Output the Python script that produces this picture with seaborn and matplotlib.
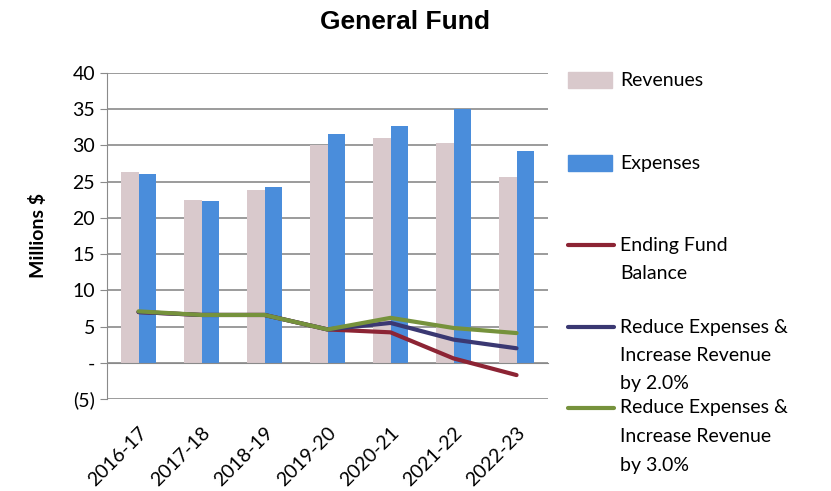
import numpy as np
import pandas as pd
import matplotlib.pyplot as plt
from matplotlib.lines import Line2D
from matplotlib.patches import Rectangle
import seaborn as sns

# --- data ---
years = ['2016-17', '2017-18', '2018-19', '2019-20', '2020-21', '2021-22', '2022-23']
revenues = [26.3, 22.5, 23.9, 30.1, 31.0, 30.3, 25.7]
expenses = [26.1, 22.4, 24.2, 31.6, 32.7, 35.1, 29.2]
ending_balance = [7.0, 6.6, 6.6, 4.6, 4.2, 0.6, -1.7]
reduce_2pct = [7.0, 6.6, 6.6, 4.6, 5.5, 3.2, 2.0]
reduce_3pct = [7.1, 6.6, 6.6, 4.6, 6.2, 4.8, 4.1]
y_ticks = [-5, 0, 5, 10, 15, 20, 25, 30, 35, 40]
y_tick_labels = ['(5)', '-', '5', '10', '15', '20', '25', '30', '35', '40']

rev_color = '#D9C9CC'
exp_color = '#4A8DDB'
red_color = '#8C2434'
purple_color = '#3A3872'
green_color = '#76923C'
grid_color = '#8A8A8A'

sns.set_style('white')
plt.rcParams['font.family'] = ['Lato', 'DejaVu Sans']
plt.rcParams['text.color'] = 'black'
plt.rcParams['axes.labelcolor'] = 'black'
plt.rcParams['xtick.color'] = 'black'
plt.rcParams['ytick.color'] = 'black'

bars = pd.DataFrame({
    'Year': years * 2,
    'Value': revenues + expenses,
    'Series': ['Revenues'] * len(years) + ['Expenses'] * len(years),
})

fig = plt.figure(figsize=(8.31, 4.91), dpi=100)
ax = fig.add_axes([0.1288, 0.1874, 0.5307, 0.6639])

sns.barplot(data=bars, x='Year', y='Value', hue='Series',
            palette=[rev_color, exp_color], width=0.57, gap=0,
            saturation=1, legend=False, ax=ax, zorder=2,
            edgecolor='none', linewidth=0)

pos = np.arange(len(years))
for vals, col in [(ending_balance, red_color), (reduce_2pct, purple_color), (reduce_3pct, green_color)]:
    sns.lineplot(x=pos, y=vals, color=col, linewidth=3, ax=ax, zorder=3)

ax.set_xlim(-0.5, len(years) - 0.5)
ax.set_ylim(-5, 40)
ax.set_yticks(y_ticks)
ax.set_yticklabels(y_tick_labels)
ax.yaxis.grid(True, color=grid_color, linewidth=1.2)
ax.set_axisbelow(True)

# category axis sits on the zero line, labels pushed below the (5) line
ax.spines['bottom'].set_position(('data', 0))
ax.spines['bottom'].set_color(grid_color)
ax.spines['left'].set_color(grid_color)
ax.spines['top'].set_visible(False)
ax.spines['right'].set_visible(False)
ax.set_xticks(pos)
ax.set_xticklabels(years, rotation=45, ha='right', rotation_mode='anchor', fontsize=14)
ax.set_xticks(np.arange(0.5, len(years), 1), minor=True)
ax.tick_params(axis='x', which='major', length=0, pad=44)
ax.tick_params(axis='x', which='minor', length=5, color=grid_color, direction='out')
ax.tick_params(axis='y', length=5, color=grid_color, direction='out', labelsize=14, left=True)
ax.set_xlabel('')
ax.set_ylabel('Millions $', fontsize=14, fontweight='bold', labelpad=18)

fig.text(0.487, 0.955, 'General Fund', ha='center', va='center',
         fontsize=19, fontweight='bold', family=['Liberation Sans', 'DejaVu Sans'])

# legend drawn to match the spaced-out Excel layout
W, H = 831, 491
def fx(px):
    return px / W
def fy(py):
    return 1 - py / H

legend_items = [
    ('patch', rev_color, ['Revenues'], 80),
    ('patch', exp_color, ['Expenses'], 163),
    ('line', red_color, ['Ending Fund', 'Balance'], 245),
    ('line', purple_color, ['Reduce Expenses &', 'Increase Revenue', 'by 2.0%'], 327),
    ('line', green_color, ['Reduce Expenses &', 'Increase Revenue', 'by 3.0%'], 408),
]
for kind, col, lines, ypx in legend_items:
    if kind == 'patch':
        fig.add_artist(Rectangle((fx(568), fy(ypx + 8)), fx(612) - fx(568), 16 / H,
                                 transform=fig.transFigure, color=col))
    else:
        fig.add_artist(Line2D([fx(568), fx(614)], [fy(ypx), fy(ypx)],
                              transform=fig.transFigure, color=col, linewidth=3))
    for i, t in enumerate(lines):
        fig.text(fx(620), fy(ypx + i * 28.5), t, ha='left', va='center', fontsize=14)

fig.savefig('out.png', dpi=100)
